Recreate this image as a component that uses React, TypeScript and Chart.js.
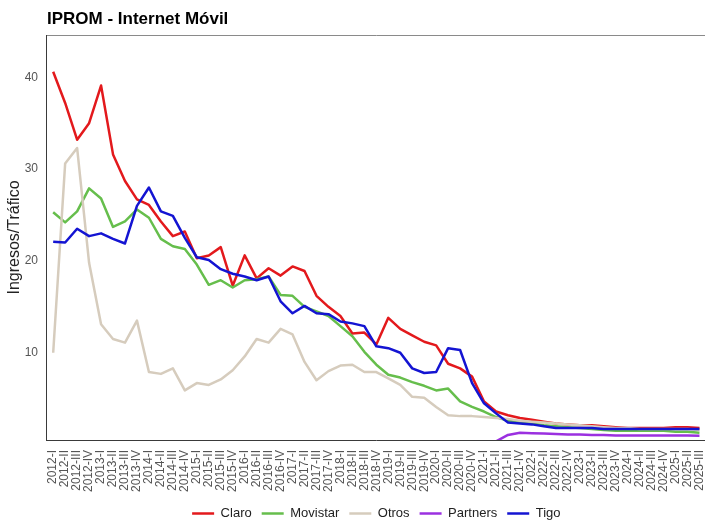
import { useEffect, useRef } from 'react';
import { Chart, registerables } from 'chart.js';

Chart.register(...registerables);

const TITLE = 'IPROM - Internet Móvil';
const Y_TITLE = 'Ingresos/Tráfico';
const FONT = '"Liberation Sans", Arial, Helvetica, sans-serif';

const quarterLabels = [
  '2012-I', '2012-II', '2012-III', '2012-IV',
  '2013-I', '2013-II', '2013-III', '2013-IV',
  '2014-I', '2014-II', '2014-III', '2014-IV',
  '2015-I', '2015-II', '2015-III', '2015-IV',
  '2016-I', '2016-II', '2016-III', '2016-IV',
  '2017-I', '2017-II', '2017-III', '2017-IV',
  '2018-I', '2018-II', '2018-III', '2018-IV',
  '2019-I', '2019-II', '2019-III', '2019-IV',
  '2020-I', '2020-II', '2020-III', '2020-IV',
  '2021-I', '2021-II', '2021-III', '2021-IV',
  '2022-I', '2022-II', '2022-III', '2022-IV',
  '2023-I', '2023-II', '2023-III', '2023-IV',
  '2024-I', '2024-II', '2024-III', '2024-IV',
  '2025-I', '2025-II', '2025-III',
];

const yTicks = [10, 20, 30, 40];

const claro = [
  40.6, 37.2, 33.2, 35.0, 39.1, 31.6, 28.7, 26.7, 26.1, 24.3, 22.7, 23.2,
  20.3, 20.6, 21.5, 17.3, 20.6, 18.1, 19.2, 18.4, 19.4, 18.9, 16.2, 15.0,
  14.0, 12.1, 12.2, 10.9, 13.8, 12.6, 11.9, 11.2, 10.8, 8.8, 8.3, 7.4,
  4.7, 3.6, 3.2, 2.9, 2.7, 2.5, 2.3, 2.2, 2.1, 2.1, 2.0, 1.9,
  1.8, 1.8, 1.8, 1.8, 1.9, 1.9, 1.8,
];

const movistar = [
  25.3, 24.2, 25.4, 27.9, 26.8, 23.7, 24.3, 25.6, 24.7, 22.4, 21.6, 21.3,
  19.6, 17.4, 17.9, 17.1, 17.9, 18.0, 18.3, 16.3, 16.2, 15.0, 14.5, 14.0,
  12.9, 11.8, 10.1, 8.7, 7.6, 7.3, 6.8, 6.4, 5.9, 6.1, 4.7, 4.1,
  3.6, 3.0, 2.6, 2.4, 2.3, 2.1, 2.0, 1.9, 1.8, 1.7, 1.6, 1.5,
  1.5, 1.5, 1.5, 1.5, 1.4, 1.4, 1.3,
];

const otros = [
  10.0, 30.6, 32.3, 19.8, 13.1, 11.5, 11.1, 13.5, 7.9, 7.7, 8.3, 5.9,
  6.7, 6.5, 7.1, 8.1, 9.6, 11.5, 11.1, 12.6, 12.0, 9.0, 7.0, 8.0,
  8.6, 8.7, 7.9, 7.9, 7.2, 6.5, 5.2, 5.1, 4.1, 3.2, 3.1, 3.1,
  3.0, 2.9, 2.8, 2.6, 2.5, 2.4, 2.3, 2.2, 2.1, 2.0, 1.9, 1.8,
  1.8, 1.7, 1.7, 1.7, 1.7, 1.7, 1.6,
];

const partners = [
  null, null, null, null, null, null, null, null, null, null, null, null,
  null, null, null, null, null, null, null, null, null, null, null, null,
  null, null, null, null, null, null, null, null, null, null, null, null,
  null, 0.35, 1.05, 1.28, 1.24, 1.2, 1.15, 1.1, 1.1, 1.05, 1.05, 1.0,
  1.0, 1.0, 1.0, 1.0, 1.0, 1.0, 0.97,
];

const tigo = [
  22.1, 22.0, 23.5, 22.7, 23.0, 22.4, 21.9, 26.0, 28.0, 25.4, 24.9, 22.5,
  20.4, 20.1, 19.1, 18.6, 18.3, 17.9, 18.3, 15.6, 14.3, 15.1, 14.3, 14.2,
  13.4, 13.2, 12.9, 10.7, 10.5, 10.0, 8.3, 7.8, 7.9, 10.5, 10.3, 6.7,
  4.5, 3.4, 2.4, 2.3, 2.2, 2.0, 1.8, 1.8, 1.8, 1.8, 1.7, 1.7,
  1.7, 1.7, 1.7, 1.7, 1.7, 1.7, 1.7,
];

const seriesNames = ['Claro', 'Movistar', 'Otros', 'Partners', 'Tigo'];
const seriesColors = ['#E3191C', '#66BE4C', '#D6CCBD', '#9B30E0', '#1414D2'];
const seriesValues = [claro, movistar, otros, partners, tigo];

const titlePlugin = {
  id: 'customTitle',
  afterDraw(chart: any) {
    const ctx = chart.ctx;
    ctx.save();
    ctx.font = `bold 17px ${FONT}`;
    ctx.fillStyle = '#000000';
    ctx.textAlign = 'left';
    ctx.textBaseline = 'alphabetic';
    ctx.fillText(TITLE, chart.chartArea.left + 1, 24);
    ctx.restore();
  },
};

const framePlugin = {
  id: 'panelFrame',
  afterDatasetsDraw(chart: any) {
    const { ctx, chartArea } = chart;
    const { left, right, top, bottom } = chartArea;
    ctx.save();
    ctx.lineWidth = 1;
    ctx.strokeStyle = '#8a8a8a';
    ctx.beginPath();
    ctx.moveTo(left, top + 0.5);
    ctx.lineTo(right, top + 0.5);
    ctx.moveTo(right - 0.5, top);
    ctx.lineTo(right - 0.5, bottom);
    ctx.stroke();
    ctx.strokeStyle = '#3a3a3a';
    ctx.beginPath();
    ctx.moveTo(left + 0.5, top);
    ctx.lineTo(left + 0.5, bottom + 1);
    ctx.moveTo(left, bottom + 0.5);
    ctx.lineTo(right, bottom + 0.5);
    ctx.stroke();
    ctx.restore();
  },
};

export default function App() {
  const ref = useRef<HTMLCanvasElement>(null);

  useEffect(() => {
    const canvas = ref.current;
    if (!canvas) return;
    const n = seriesNames.length;
    const datasets = seriesNames.map((name, k) => ({
      label: name,
      data: seriesValues[k].map((v, i) => ({ x: i, y: v })),
      borderColor: seriesColors[k],
      backgroundColor: seriesColors[k],
      borderWidth: 2.5,
      pointRadius: 0,
      pointHoverRadius: 0,
      tension: 0,
      borderJoinStyle: 'round' as const,
      spanGaps: false,
      order: n - k,
    }));

    const chart = new Chart(canvas, {
      type: 'line',
      data: { datasets },
      options: {
        responsive: false,
        animation: false,
        layout: { padding: { left: 0, right: 12, top: 35, bottom: 10 } },
        plugins: {
          title: { display: false },
          tooltip: { enabled: false },
          legend: {
            display: true,
            position: 'bottom',
            fullSize: false,
            labels: {
              usePointStyle: true,
              pointStyle: 'line',
              pointStyleWidth: 22,
              padding: 10,
              color: '#222222',
              font: { size: 13, family: FONT },
              sort: (a: any, b: any) => a.datasetIndex - b.datasetIndex,
            },
          },
        },
        scales: {
          x: {
            type: 'linear',
            min: -0.6,
            max: quarterLabels.length - 1 + 0.6,
            grid: { display: false, drawTicks: false },
            border: { display: false },
            afterBuildTicks: (s: any) => {
              s.ticks = quarterLabels.map((_, i) => ({ value: i }));
            },
            afterFit: (s: any) => {
              s.height = 57;
            },
            ticks: {
              autoSkip: false,
              minRotation: 90,
              maxRotation: 90,
              padding: 10,
              color: '#555555',
              font: { size: 12, family: FONT },
              callback: (v: any) => quarterLabels[Math.round(Number(v))] ?? '',
            },
          },
          y: {
            type: 'linear',
            min: 0.5,
            max: 44.6,
            grid: { display: false, drawTicks: false },
            border: { display: false },
            afterBuildTicks: (s: any) => {
              s.ticks = yTicks.map((v) => ({ value: v }));
            },
            afterFit: (s: any) => {
              s.width = 46;
            },
            ticks: {
              padding: 8,
              color: '#555555',
              font: { size: 12, family: FONT },
            },
            title: {
              display: true,
              text: Y_TITLE,
              color: '#222222',
              font: { size: 16, family: FONT },
              padding: { top: 5, bottom: 0 },
            },
          },
        },
      },
      plugins: [framePlugin, titlePlugin],
    });

    return () => chart.destroy();
  }, []);

  return (
    <div
      style={{
        position: 'fixed',
        left: 0,
        top: 0,
        width: 705,
        height: 523,
        overflow: 'hidden',
        background: '#ffffff',
      }}
    >
      <canvas ref={ref} width={724} height={540} style={{ display: 'block', width: 724, height: 540 }} />
    </div>
  );
}
